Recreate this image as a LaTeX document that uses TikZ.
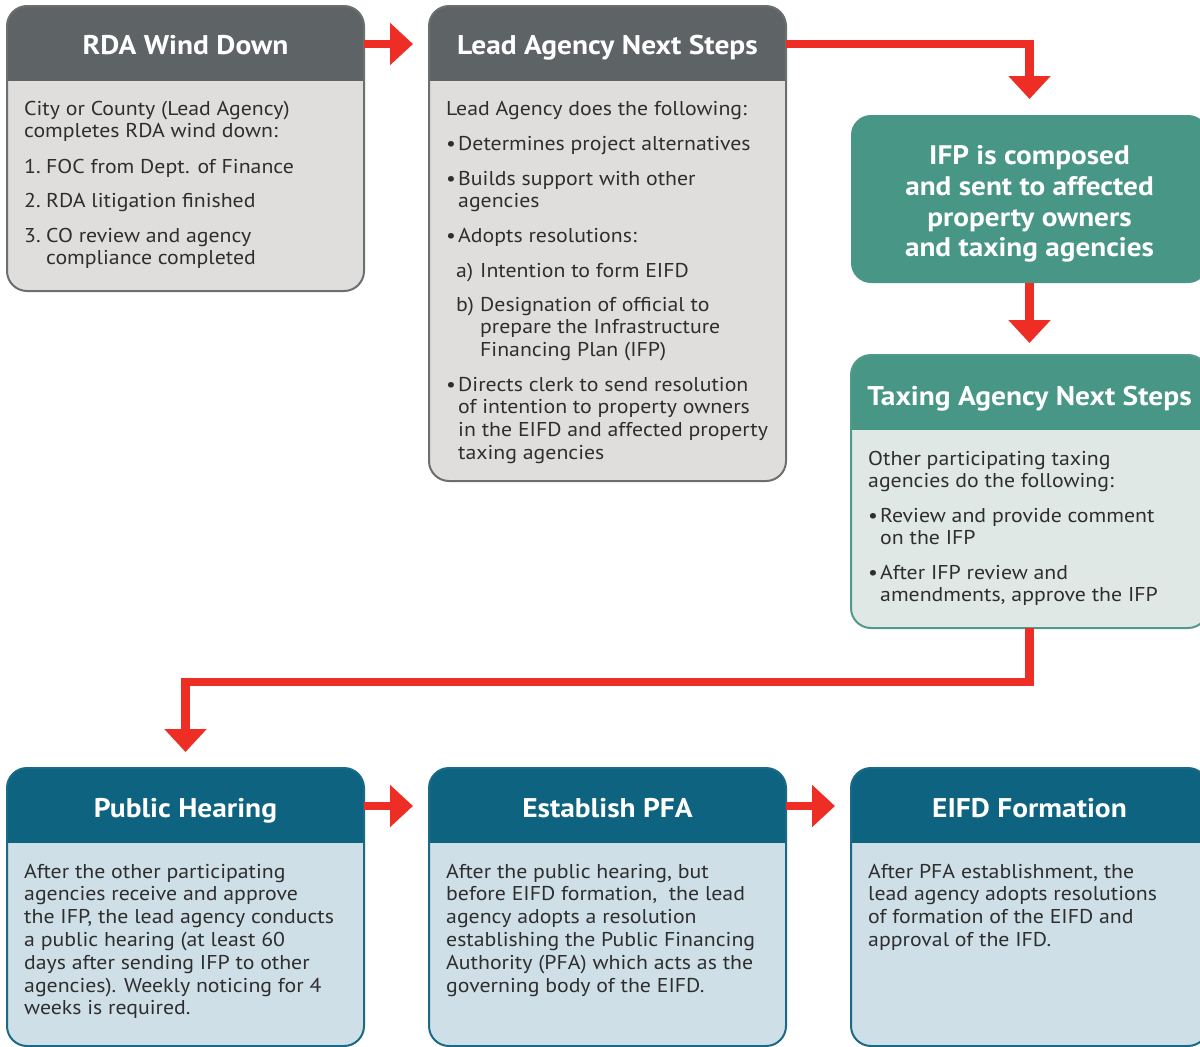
\documentclass[tikz,border=0pt]{standalone}
\usepackage{fontspec}
\setmainfont{PT Sans}[FakeStretch=1.09]
\usetikzlibrary{arrows.meta,calc}

\definecolor{grayhead}{HTML}{5E6466}
\definecolor{graybody}{HTML}{DFDEDC}
\definecolor{grayline}{HTML}{6B6F70}
\definecolor{tealhead}{HTML}{479686}
\definecolor{tealbody}{HTML}{DFE8E5}
\definecolor{tealline}{HTML}{4F9A8B}
\definecolor{bluehead}{HTML}{0E6480}
\definecolor{bluebody}{HTML}{CFDFE7}
\definecolor{blueline}{HTML}{1A6A85}
\definecolor{flowred}{HTML}{EE2E24}
\definecolor{ink}{HTML}{2E2E2E}

% label column + hanging text lines
\newcommand\lst[3]{\begin{tabular}[t]{@{}p{#1}@{}l@{}}#2&\begin{tabular}[t]{@{}l@{}}#3\end{tabular}\end{tabular}}
\newcommand\lines[1]{\begin{tabular}[t]{@{}l@{}}#1\end{tabular}}

% name, x, y (top left), height, header height, header colour, body colour, border colour
\newcommand\panelbox[8]{%
  \node[panel, minimum height=#4pt, fill=#7] (#1) at (#2,#3) {};
  \begin{scope}
    \clip[rounded corners=20pt] (#1.north west) rectangle (#1.south east);
    \fill[#6] (#1.north west) rectangle ([yshift=-#5pt]#1.north east);
  \end{scope}
  \draw[#8, line width=2pt, rounded corners=20pt] (#1.north west) rectangle (#1.south east);
}

\tikzset{
  panel/.style={anchor=north west, minimum width=357pt, inner sep=0pt, outer sep=0pt, rounded corners=20pt},
  title/.style={text=white, font=\fontsize{27}{30}\selectfont\bfseries, inner sep=0pt, anchor=base},
  body/.style={text=ink, font=\fontsize{20}{22.8}\selectfont, anchor=base west, inner sep=0pt},
  flow/.style={draw=flowred, line width=8.5pt, -{Triangle[length=23pt,width=41pt]}},
}

\begin{document}
\begin{tikzpicture}[x=1pt,y=-1pt]
\useasboundingbox (0,0) rectangle (1200,1047);
\clip (0,0) rectangle (1200,1047);

% ---------- panels ----------
\panelbox{rda}{7}{6}{285}{75}{grayhead}{graybody}{grayline}
\panelbox{lead}{429}{6}{475}{75}{grayhead}{graybody}{grayline}
\node[panel, minimum height=168pt, fill=tealhead] (ifp) at (851,115) {};
\panelbox{tax}{851}{355}{273}{75}{tealhead}{tealbody}{tealline}
\panelbox{ph}{7}{768}{278}{75}{bluehead}{bluebody}{blueline}
\panelbox{pfa}{429}{768}{278}{75}{bluehead}{bluebody}{blueline}
\panelbox{eifd}{851}{768}{278}{75}{bluehead}{bluebody}{blueline}

% ---------- titles ----------
\node[title] (rdaT)  at (185.5,54)  {RDA Wind Down};
\node[title] (leadT) at (607.5,54)  {Lead Agency Next Steps};
\node[title] (taxT)  at (1029.5,405) {Taxing Agency Next Steps};
\node[title] (phT)   at (185.5,817) {Public Hearing};
\node[title] (pfaT)  at (607.5,817) {Establish PFA};
\node[title] (eifdT) at (1029.5,817) {EIFD Formation};

\node[text=white, font=\fontsize{26.8}{30.7}\selectfont\bfseries, align=center, inner sep=0pt]
  (ifpT) at (1029.5,204) {IFP is composed\\and sent to affected\\property owners\\and taxing agencies};

% ---------- RDA wind down ----------
\node[body] (rda1) at (24,115) {\lines{City or County (Lead Agency)\\completes RDA wind down:}};
\node[body] (rda2) at (24,173) {\lst{22pt}{1.}{FOC from Dept. of Finance}};
\node[body] (rda3) at (24,207) {\lst{22pt}{2.}{RDA litigation finished}};
\node[body] (rda4) at (24,242) {\lst{22pt}{3.}{CO review and agency\\compliance completed}};

% ---------- lead agency ----------
\node[body] (lead1) at (446,115) {Lead Agency does the following:};
\node[body] (lead2) at (446,150) {\lst{12pt}{•}{Determines project alternatives}};
\node[body] (lead3) at (446,185) {\lst{12pt}{•}{Builds support with other\\agencies}};
\node[body] (lead4) at (446,242) {\lst{12pt}{•}{Adopts resolutions:}};
\node[body] (lead5) at (456,277) {\lst{24pt}{a)}{Intention to form EIFD}};
\node[body] (lead6) at (456,311) {\lst{24pt}{b)}{Designation of official to\\prepare the Infrastructure\\Financing Plan (IFP)}};
\node[body] (lead7) at (446,391) {\lst{12pt}{•}{Directs clerk to send resolution\\of intention to property owners\\in the EIFD and affected property\\taxing agencies}};

% ---------- taxing agency ----------
\node[body] (tax1) at (868,465) {\lines{Other participating taxing\\agencies do the following:}};
\node[body] (tax2) at (868,522) {\lst{12pt}{•}{Review and provide comment\\on the IFP}};
\node[body] (tax3) at (868,579) {\lst{12pt}{•}{After IFP review and\\amendments, approve the IFP}};

% ---------- bottom row ----------
\node[body] (ph1) at (24,878) {\lines{After the other participating\\agencies receive and approve\\the IFP, the lead agency conducts\\a public hearing (at least 60\\days after sending IFP to other\\agencies). Weekly noticing for 4\\weeks is required.}};
\node[body] (pfa1) at (446,878) {\lines{After the public hearing, but\\before EIFD formation,~ the lead\\agency adopts a resolution\\establishing the Public Financing\\Authority (PFA) which acts as the\\governing body of the EIFD.}};
\node[body] (eifd1) at (868,878) {\lines{After PFA establishment, the\\lead agency adopts resolutions\\of formation of the EIFD and\\approval of the IFD.}};

% ---------- connectors ----------
\coordinate (bend) at (0,682);
\coordinate (toprow) at (0,44);
\coordinate (botrow) at (0,806);
\draw[flow] (rda.east |- toprow) -- ([xshift=-16pt]lead.west |- toprow);
\draw[flow] (lead.east |- toprow) -| ([yshift=16pt]ifp.north);
\draw[flow] (ifp.south) -- ([yshift=12pt]tax.north);
\draw[flow] (tax.south) -- (tax.south |- bend) -| ([yshift=16pt]ph.north);
\draw[flow] (ph.east |- botrow) -- ([xshift=-16pt]pfa.west |- botrow);
\draw[flow] (pfa.east |- botrow) -- ([xshift=-16pt]eifd.west |- botrow);
\end{tikzpicture}
\end{document}
